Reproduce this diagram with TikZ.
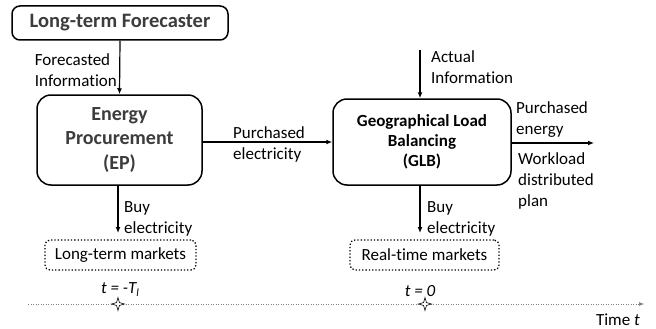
\documentclass[tikz,border=0pt]{standalone}
\usepackage{fontspec}
\setmainfont{Carlito}[Ligatures=CommonOff]
\usetikzlibrary{arrows.meta,shapes.geometric}
\definecolor{txtgray}{HTML}{3C3C3C}
\tikzset{
  box/.style={draw=black, line width=1.5pt, rounded corners=14pt, align=center, inner sep=2pt},
  mkt/.style={draw=black, line width=1.3pt, dotted, rounded corners=5pt, align=center, font=\fontsize{17}{21}\selectfont},
  lbl/.style={inner sep=0pt, align=left, font=\fontsize{17}{21}\selectfont},
  arr/.style={line width=1.2pt, -{Latex[length=6pt,width=5pt]}},
  sparkle/.style={star, star points=4, star point ratio=3.2, draw=black, fill=white, line width=0.6pt, minimum size=13pt, inner sep=0pt}
}
\begin{document}
\begin{tikzpicture}[x=1pt,y=-1pt]
\useasboundingbox (0,0) rectangle (656,329);
\node[box, minimum width=216pt, minimum height=34pt, rounded corners=8pt, text=txtgray, font=\fontsize{20.5}{24}\selectfont\bfseries] (fc) at (120,23) {Long-term Forecaster};
\node[box, minimum width=165pt, minimum height=90pt, text=txtgray, font=\fontsize{20}{24.5}\selectfont\bfseries] (ep) at (119.5,140) {Energy\\Procurement\\(EP)};
\node[box, minimum width=178pt, minimum height=86pt, font=\fontsize{17}{20}\selectfont\bfseries] (glb) at (422,142) {Geographical Load\\Balancing\\(GLB)};
\node[mkt, minimum width=151pt, minimum height=30pt] (ltm) at (120.5,255) {Long-term markets};
\node[mkt, minimum width=149pt, minimum height=30pt] (rtm) at (424.5,255) {Real-time markets};

\coordinate (ai) at (420,50);
\coordinate (out) at (594,143);
\coordinate (tl0) at (28,304);
\coordinate (tl1) at (644,304);

\draw[arr] (fc.south) -- (ep.north);
\draw[arr] (ai) -- (ai |- glb.north);
\draw[arr] (ep.east |- 0,142) -- (glb.west |- 0,142);
\draw[arr] (glb.east |- out) -- (out);
\draw[arr] (118,185) -- (118,233);
\draw[arr] (420,185) -- (420,233);
\draw[gray, line width=0.5pt, dotted, -{Latex[length=5pt,width=4pt]}] (tl0) -- (tl1);

\node[lbl, anchor=east] (fcl) at (117,70) {Forecasted\\Information};
\node[lbl, anchor=west] (ail) at (431,67) {Actual\\Information};
\node[lbl, anchor=west] (pel) at (233,144) {Purchased\\electricity};
\node[lbl, anchor=west] (pen) at (516,120) {Purchased\\energy};
\node[lbl, anchor=west] (wdp) at (518,181) {Workload\\distributed\\plan};
\node[lbl, anchor=west] (b1) at (124,219) {Buy\\electricity};
\node[lbl, anchor=west] (b2) at (427,219) {Buy\\electricity};

\node[sparkle] (s1) at (118,304) {};
\node[sparkle] (s2) at (425,304) {};
\node[lbl, anchor=south] (t1) at (120,297) {\itshape t = -T\raisebox{-0.35ex}{\fontsize{11}{12}\selectfont l}};
\node[lbl, anchor=south] (t2) at (420,297) {\itshape t = 0};
\node[lbl, anchor=east] (tt) at (640,320) {Time \textit{t}};
\end{tikzpicture}
\end{document}
